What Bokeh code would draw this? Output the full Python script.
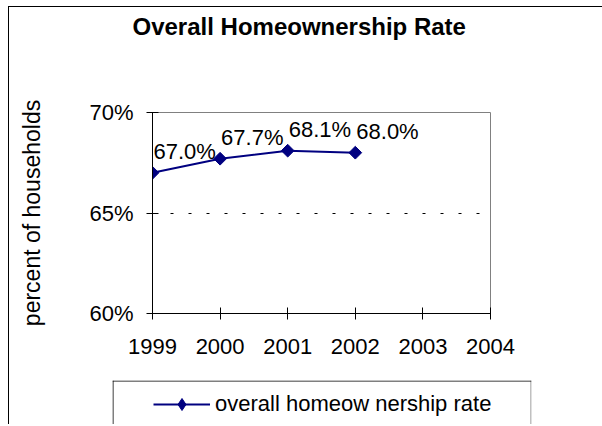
import math
from bokeh.plotting import figure
from bokeh.layouts import column
from bokeh.core.properties import value
from bokeh.models import (ColumnDataSource, Range1d, FixedTicker, PrintfTickFormatter,
                          LabelSet, Label, Legend, LegendItem, Span)
from bokeh.embed import file_html
from bokeh.resources import INLINE

# ---- data ----
years = [1999, 2000, 2001, 2002]
rates = [67.0, 67.7, 68.1, 68.0]
rate_labels = ["67.0%", "67.7%", "68.1%", "68.0%"]
x_ticks = [1999, 2000, 2001, 2002, 2003, 2004]
y_ticks = [60, 65, 70]
title_text = "Overall Homeownership Rate"
y_axis_title = "percent of households"
series_name = "overall homeow nership rate"

FONT = "Liberation Sans"
NAVY = "#000080"

src = ColumnDataSource(dict(year=years, rate=rates, label=rate_labels))


def bare(fig):
    fig.outline_line_color = None
    fig.xgrid.visible = False
    fig.ygrid.visible = False
    fig.background_fill_color = "white"
    fig.border_fill_color = "white"
    fig.frame_align = False


# ---------------- title strip ----------------
top = figure(width=593, height=50, output_backend="svg", toolbar_location=None,
             x_range=Range1d(0, 1), y_range=Range1d(0, 1),
             x_axis_type=None, y_axis_type=None, min_border=0)
bare(top)
top.add_layout(Label(x=123, y=31, x_units="screen", y_units="screen",
                     text=title_text, text_align="left", text_baseline="alphabetic",
                     text_font=FONT, text_font_size="24px", text_font_style="bold",
                     text_color="black"))

# ---------------- main chart ----------------
p = figure(width=593, height=323, output_backend="svg", toolbar_location=None,
           x_range=Range1d(1999, 2004), y_range=Range1d(60, 70),
           min_border_left=143, min_border_right=112,
           min_border_top=55, min_border_bottom=67)
p.frame_align = False
p.background_fill_color = "white"
p.border_fill_color = "white"
p.outline_line_color = "#808080"
p.outline_line_width = 1

p.xaxis.ticker = FixedTicker(ticks=x_ticks)
p.yaxis.ticker = FixedTicker(ticks=y_ticks)
p.yaxis.formatter = PrintfTickFormatter(format="%d%%")
for ax in (p.xaxis, p.yaxis):
    ax.axis_line_color = "black"
    ax.axis_line_width = 1
    ax.major_tick_line_color = "black"
    ax.major_tick_in = 6
    ax.major_tick_out = 6
    ax.minor_tick_line_color = None
    ax.major_label_text_font = FONT
    ax.major_label_text_font_size = "22px"
    ax.major_label_text_color = "black"
p.xaxis.major_label_standoff = 19
p.yaxis.major_label_standoff = 13
p.yaxis.axis_label = y_axis_title
p.yaxis.axis_label_text_font = FONT
p.yaxis.axis_label_text_font_size = "23px"
p.yaxis.axis_label_text_font_style = "normal"
p.yaxis.axis_label_text_color = "black"
p.yaxis.axis_label_standoff = 41

p.xgrid.grid_line_color = None
p.ygrid.ticker = FixedTicker(ticks=[65])
p.ygrid.grid_line_color = "black"
p.ygrid.grid_line_dash = "3 15"
p.ygrid.grid_line_width = 1

p.line("year", "rate", source=src, line_color=NAVY, line_width=2)
p.scatter("year", "rate", source=src, marker="square", angle=math.pi / 4,
          size=9, fill_color=NAVY, line_color=NAVY)

labels = LabelSet(x="year", y="rate", text="label", source=src,
                  x_offset=1, y_offset=14, text_align="left",
                  text_baseline="alphabetic", text_font=value(FONT),
                  text_font_size="22px", text_color="black")
p.add_layout(labels)

# ---------------- legend strip ----------------
leg = figure(width=593, height=44, output_backend="svg", toolbar_location=None,
             x_range=Range1d(0, 1), y_range=Range1d(0, 1),
             x_axis_type=None, y_axis_type=None,
             min_border_left=103, min_border_right=71,
             min_border_top=0, min_border_bottom=0)
bare(leg)

# legend sample glyphs (series kept outside this strip's visible range)
lr = leg.line("year", "rate", source=src, line_color=NAVY, line_width=2)
mr = leg.scatter("year", "rate", source=src, marker="diamond",
                 size=13, fill_color=NAVY, line_color=NAVY)

leg.add_layout(Span(location=0.5, location_units="screen", dimension="height",
                    line_color="black", line_width=1))
leg.add_layout(Span(location=418.5, location_units="screen", dimension="height",
                    line_color="#808080", line_width=1))
leg.add_layout(Span(location=43.5, location_units="screen", dimension="width",
                    line_color="black", line_width=1))

legend = Legend(items=[LegendItem(label=series_name, renderers=[lr, mr])],
                location=(41, 5), orientation="vertical",
                glyph_width=57, glyph_height=30, label_height=30,
                label_standoff=5, padding=0, margin=0, spacing=0,
                border_line_alpha=0, background_fill_alpha=0,
                label_text_font=FONT, label_text_font_size="22px",
                label_text_color="black")
leg.add_layout(legend, "center")

layout = column(top, p, leg, spacing=0,
                styles={"margin-left": "8px", "margin-top": "6px",
                        "border-left": "1px solid black",
                        "border-top": "1px solid black"})

open("out.html", "w").write(file_html(layout, INLINE))
